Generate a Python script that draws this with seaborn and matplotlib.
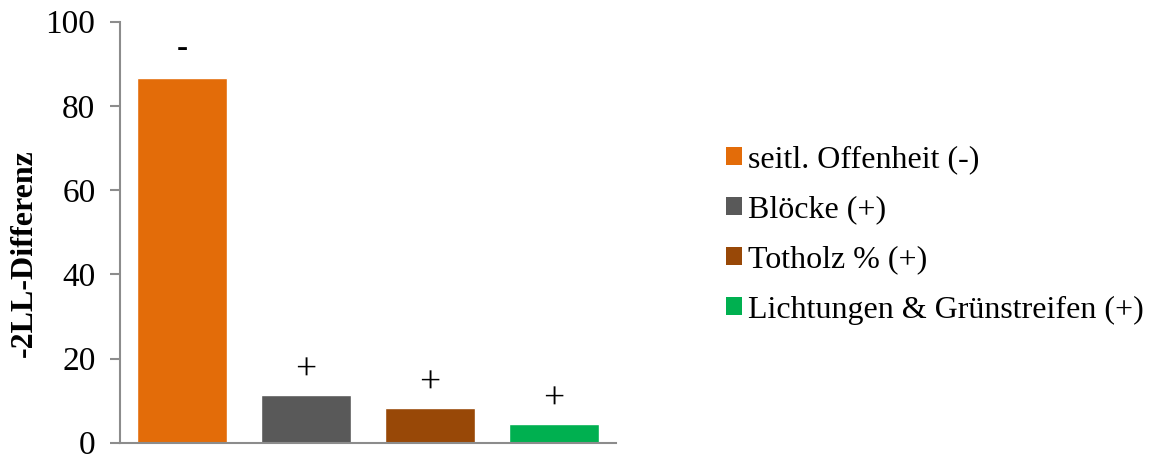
import matplotlib
matplotlib.use("Agg")
import matplotlib.pyplot as plt
from matplotlib.patches import Patch
import seaborn as sns
import pandas as pd

# Predictor effects on model fit
categories = ["seitl. Offenheit (-)", "Blöcke (+)", "Totholz % (+)", "Lichtungen & Grünstreifen (+)"]
values = [86.6, 11.3, 8.2, 4.4]
signs = ["-", "+", "+", "+"]
colors = ["#E36C09", "#595959", "#984807", "#00B050"]
y_ticks = [0, 20, 40, 60, 80, 100]

sns.set_theme(style="white")
plt.rcParams["font.family"] = ["Liberation Serif", "DejaVu Serif"]
plt.rcParams["text.color"] = "black"
plt.rcParams["axes.labelcolor"] = "black"
plt.rcParams["ytick.labelcolor"] = "black"

df = pd.DataFrame({"Variable": categories, "Wert": values})

fig = plt.figure(figsize=(11.52, 4.54), dpi=100)
ax = fig.add_axes([120 / 1152, 1 - 442.7 / 454, (616 - 120) / 1152, (442.7 - 21.7) / 454])

sns.barplot(data=df, x="Variable", y="Wert", hue="Variable", palette=colors,
            dodge=False, width=0.72, legend=False, ax=ax, saturation=1)

ax.set_xlim(-0.5, 3.5)
ax.set_ylim(0, 100)
ax.set_yticks(y_ticks)
ax.set_yticklabels([str(t) for t in y_ticks], fontsize=24, color="black")
ax.set_xticks([])
ax.set_xlabel("")
ax.set_ylabel("-2LL-Differenz", fontsize=23, fontweight="bold", color="black")
ax.yaxis.set_label_coords(-0.163, 0.45)

for side in ["top", "right"]:
    ax.spines[side].set_visible(False)
for side in ["left", "bottom"]:
    ax.spines[side].set_color("#8c8c8c")
    ax.spines[side].set_linewidth(1.5)
ax.tick_params(axis="y", direction="out", length=7.2, width=1.5, color="#8c8c8c", left=True, pad=10.5)

# Sign of each effect above its bar
for i, (v, s) in enumerate(zip(values, signs)):
    if s == "-":
        ax.annotate(s, xy=(i, v), xytext=(0, 21), textcoords="offset points",
                    ha="center", va="center", fontsize=24, fontweight="bold", color="black")
    else:
        ax.annotate(s, xy=(i, v), xytext=(0, 18), textcoords="offset points",
                    ha="center", va="center", fontsize=27, color="black")

handles = [Patch(facecolor=c, edgecolor="none", label=l) for c, l in zip(colors, categories)]
leg = fig.legend(handles=handles, loc="center left", bbox_to_anchor=(726 / 1152, 1 - 235 / 454),
                 frameon=False, fontsize=23, handlelength=0.5, handleheight=0.5,
                 handletextpad=0.2, labelspacing=0.66, borderaxespad=0, borderpad=0)
for t in leg.get_texts():
    t.set_color("black")

fig.savefig("out.png", dpi=100, facecolor="white")
